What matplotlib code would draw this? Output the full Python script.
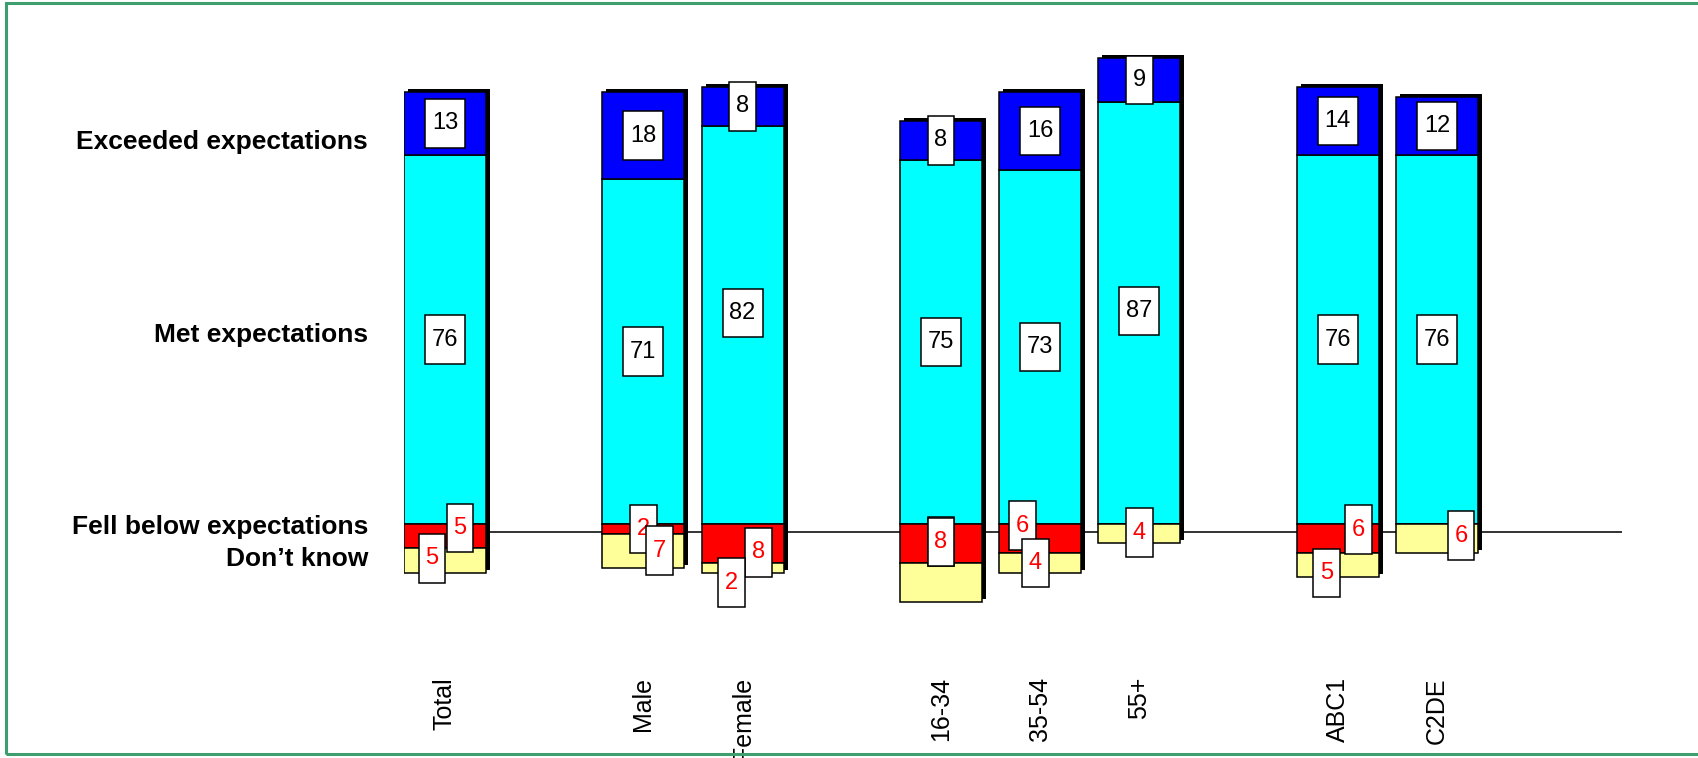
import matplotlib
matplotlib.use("Agg")
import matplotlib.pyplot as plt
import matplotlib.transforms as mtransforms
from matplotlib.patches import Rectangle
from matplotlib.path import Path
import numpy as np

plt.rcParams["font.family"] = ["Liberation Sans", "DejaVu Sans"]

# survey results, % of respondents
groups = ["Total", "Male", "Female", "16-34", "35-54", "55+", "ABC1", "C2DE"]
group_pos = [0, 2, 3, 5, 6, 7, 9, 10]  # gaps between Total / gender / age / class
exceeded = [13, 18, 8, 8, 16, 9, 14, 12]
met = [76, 71, 82, 75, 73, 87, 76, 76]
fell_below = [5, 2, 8, 8, 6, 0, 6, 0]
dont_know = [5, 7, 2, 8, 4, 4, 5, 6]

row_names = ["Exceeded expectations", "Met expectations",
             "Fell below expectations", "Don\u2019t know"]
row_y = [78.7, 38.9, -0.6, -7.3]

# label nudges (pixels: dx right, dy up) so the boxes do not overlap
exc_nudge = [(0, 0)] * 8
met_nudge = [(0, 0), (0, 0), (0, 12), (0, 0), (0, 0), (0, 2), (0, 0), (0, 0)]
fell_nudge = [(15, 8), (0, 0), (16, -9), (0, 2), (-18, 13), (0, 0), (21, 9), (0, 0)]
dk_nudge = [(-13, 2), (16, 0), (-11, -15), (0, 40), (-5, 0), (0, 1), (-11, -8), (24, 3)]

W, H, DPI = 1699, 758, 100
px_x = 99.2    # pixels per x unit
px_y = 4.855   # pixels per percentage point
zero_px = 524  # pixel row of 0 %

fig = plt.figure(figsize=(W / DPI, H / DPI), dpi=DPI)
ax_left, ax_right = 404, 1622
ax_top, ax_bot = 20, 640
ax = fig.add_axes([ax_left / W, 1 - ax_bot / H, (ax_right - ax_left) / W, (ax_bot - ax_top) / H])
x0 = -41 / px_x
ax.set_xlim(x0, x0 + (ax_right - ax_left) / px_x)
ax.set_ylim(-(ax_bot - zero_px) / px_y, (zero_px - ax_top) / px_y)
ax.set_axis_off()

x = np.array(group_pos, dtype=float)
exc = np.array(exceeded)
mt = np.array(met)
fb = np.array(fell_below)
dk = np.array(dont_know)
bw = 82 / px_x

ax.axhline(-1.65, color="#333333", lw=1.4, zorder=1)

# drop shadow (3D look): black bar shifted right/up
shadow = ax.bar(x, mt + exc + fb + dk, bottom=-(fb + dk), width=bw, color="black", zorder=2)
shift = mtransforms.ScaledTranslation(4 / DPI, 3 / DPI, fig.dpi_scale_trans)
for p in shadow:
    p.set_transform(ax.transData + shift)

kw = dict(width=bw, edgecolor="black", linewidth=1.1, zorder=3)
ax.bar(x, mt, bottom=0, color="#00FFFF", **kw)
ax.bar(x, exc, bottom=mt, color="#0000FF", **kw)
ax.bar(x, -fb, bottom=0, color="#FF0000", **kw)
ax.bar(x, -dk, bottom=-fb, color="#FFFF99", **kw)


def tall_box(x0, y0, width, height, mutation_size):
    px = 0.29 * mutation_size
    py = 0.56 * mutation_size
    verts = [(x0 - px, y0 - py), (x0 + width + px, y0 - py),
             (x0 + width + px, y0 + height + py), (x0 - px, y0 + height + py),
             (x0 - px, y0 - py)]
    return Path(verts, closed=True)


def put_label(xc, yc, val, nudge, color):
    if val == 0:
        return
    ax.text(xc + nudge[0] / px_x, yc + nudge[1] / px_y, str(val), ha="center", va="center",
            fontsize=17, color=color, zorder=5,
            bbox=dict(boxstyle=tall_box, facecolor="white", edgecolor="black", linewidth=1.1))


for i in range(len(groups)):
    put_label(x[i], mt[i] + exc[i] / 2, exc[i], exc_nudge[i], "black")
    put_label(x[i], mt[i] / 2, mt[i], met_nudge[i], "black")
    put_label(x[i], -fb[i] / 2, fb[i], fell_nudge[i], "red")
    put_label(x[i], -fb[i] - dk[i] / 2, dk[i], dk_nudge[i], "red")

# group names under the bars
for xi, name in zip(x, groups):
    ax.text(xi, -(677 - zero_px) / px_y, name, rotation=90, ha="center", va="top",
            fontsize=18, clip_on=False)

# row names on the left
tr = mtransforms.blended_transform_factory(fig.transFigure, ax.transData)
for yv, name in zip(row_y, row_names):
    fig.text(368 / W, yv, name, transform=tr, ha="right", va="center",
             fontsize=19, fontweight="bold")

# green frame around the slide
fig.add_artist(Rectangle((6 / W, 1 - 754 / H), 1.1, (754 - 3) / H, transform=fig.transFigure,
                         fill=False, edgecolor="#3d9e6e", linewidth=2.2))

fig.savefig("out.png", dpi=DPI)
